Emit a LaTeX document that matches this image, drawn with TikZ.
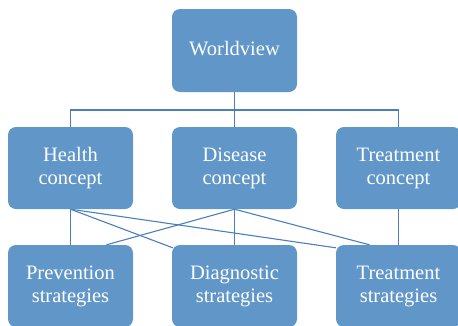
\documentclass[tikz,border=0pt]{standalone}
\usepackage{fontspec}
\setmainfont{Liberation Serif}
\newfontfamily\boxfont{Liberation Serif}
\usetikzlibrary{backgrounds,calc}
\definecolor{boxblue}{RGB}{97,150,200}
\definecolor{lineblue}{RGB}{74,127,187}
\begin{document}
\begin{tikzpicture}[x=1pt,y=-1pt,
  box/.style={draw=none,fill=boxblue,rounded corners=8pt,minimum width=125pt,minimum height=82pt,
    text=white,align=center,font=\boxfont\fontsize{20.5}{23}\selectfont,inner sep=0pt},
  link/.style={draw=lineblue,line width=1.1pt}]
\useasboundingbox (0,0) rectangle (458,325);
\node[box,minimum height=83pt] (W) at (234.5,50.5) {\raisebox{4pt}{Worldview}};
\node[box] (H) at (70.5,168) {Health\\concept};
\node[box] (D) at (234.5,168) {Disease\\concept};
\node[box] (TC) at (398.5,168) {Treatment\\concept};
\node[box] (P) at (70.5,286) {Prevention\\strategies};
\node[box] (G) at (234.5,286) {Diagnostic\\strategies};
\node[box] (TS) at (398.5,286) {Treatment\\strategies};
\coordinate (bus) at (234.5,110);
\begin{scope}[on background layer]
\draw[link] (W.south) -- (D.north);
\draw[link] (H.north) |- (bus) -| (TC.north);
\draw[link] (H.south) -- (P.north);
\draw[link] (H.south) -- ($(G.north west)+(1,3)$);
\draw[link] (H.south) -- ($(TS.north west)+(0,3)$);
\draw[link] (D.south) -- ($(P.north)+(36,0)$);
\draw[link] (D.south) -- (G.north);
\draw[link] (D.south) -- ($(TS.north)+(-29,0)$);
\draw[link] (TC.south) -- (TS.north);
\end{scope}
\end{tikzpicture}
\end{document}
